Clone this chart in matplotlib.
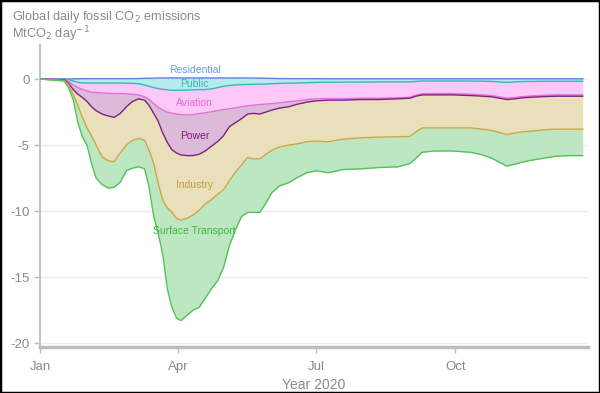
import numpy as np
import matplotlib
matplotlib.use("Agg")
import matplotlib.pyplot as plt
from matplotlib.patches import Rectangle

plt.rcParams['font.family'] = ['Liberation Sans', 'DejaVu Sans']
plt.rcParams['axes.unicode_minus'] = False

# day of year 2020 (0 = Jan 1)
days = [0, 16, 19, 22, 25, 28, 31, 34, 37, 41, 45, 49, 53, 57, 61, 65, 69, 72,
        75, 78, 81, 84, 87, 90, 93, 97, 101, 105, 109, 113, 117, 121, 125, 129,
        133, 137, 141, 145, 149, 153, 158, 164, 170, 176, 182, 190, 200, 212,
        224, 236, 244, 248, 252, 260, 272, 284, 292, 298, 303, 308, 313, 318,
        324, 332, 340, 350, 358]

# stacked levels (MtCO2/day): each is the running total
# down to (and including) that sector
residential_top = [0, 0, 0, 0.02, 0.02, 0.03, 0.03, 0.03, 0.03, 0.03, 0.03, 0.03,
                   0.03, 0.03, 0.03, 0.04, 0.05, 0.06, 0.07, 0.08, 0.08, 0.08, 0.08,
                   0.08, 0.08, 0.08, 0.08, 0.08, 0.08, 0.08, 0.08, 0.08, 0.08, 0.08,
                   0.08, 0.08, 0.07, 0.07, 0.06, 0.05, 0.04, 0.03, 0.03, 0.03, 0.03,
                   0.02, 0.02, 0.02, 0.02, 0.02, 0.02, 0.02, 0.02, 0.02, 0.02, 0.02,
                   0.02, 0.02, 0.02, 0.02, 0.02, 0.02, 0.02, 0.02, 0.02, 0.02, 0.02]

level_public = [0, 0, -0.05, -0.15, -0.25, -0.3, -0.3, -0.3, -0.3, -0.3, -0.3, -0.3,
                -0.3, -0.31, -0.32, -0.35, -0.45, -0.55, -0.65, -0.72, -0.78, -0.82,
                -0.85, -0.85, -0.85, -0.84, -0.82, -0.8, -0.8, -0.75, -0.65, -0.55,
                -0.48, -0.45, -0.42, -0.41, -0.4, -0.39, -0.38, -0.35, -0.33, -0.31,
                -0.3, -0.28, -0.25, -0.24, -0.23, -0.23, -0.22, -0.22, -0.22, -0.18,
                -0.15, -0.15, -0.15, -0.15, -0.16, -0.18, -0.22, -0.25, -0.22, -0.19,
                -0.18, -0.17, -0.17, -0.17, -0.17]

level_aviation = [0, -0.05, -0.2, -0.45, -0.65, -0.8, -0.9, -1.0, -1.02, -1.05,
                  -1.08, -1.1, -1.1, -1.12, -1.15, -1.2, -1.35, -1.55, -1.85, -2.15,
                  -2.35, -2.5, -2.6, -2.65, -2.7, -2.72, -2.7, -2.62, -2.55, -2.48,
                  -2.4, -2.32, -2.25, -2.18, -2.1, -2.03, -1.98, -1.93, -1.9, -1.86,
                  -1.8, -1.72, -1.65, -1.55, -1.5, -1.48, -1.48, -1.45, -1.45, -1.42,
                  -1.38, -1.22, -1.12, -1.1, -1.1, -1.15, -1.2, -1.25, -1.35, -1.45,
                  -1.4, -1.33, -1.28, -1.23, -1.2, -1.2, -1.2]

level_power = [0, -0.05, -0.35, -0.8, -1.15, -1.4, -1.7, -2.1, -2.4, -2.65, -2.8,
               -2.9, -2.6, -2.1, -1.7, -1.5, -1.6, -2.0, -2.6, -3.2, -4.1, -4.8,
               -5.35, -5.6, -5.75, -5.8, -5.8, -5.7, -5.45, -5.1, -4.75, -4.3, -3.6,
               -3.3, -3.0, -2.65, -2.6, -2.65, -2.5, -2.35, -2.2, -2.1, -1.9, -1.75,
               -1.65, -1.6, -1.6, -1.55, -1.55, -1.5, -1.45, -1.3, -1.2, -1.2, -1.2,
               -1.25, -1.3, -1.35, -1.45, -1.55, -1.5, -1.42, -1.38, -1.33, -1.3,
               -1.3, -1.3]

level_industry = [0, -0.1, -0.45, -1.2, -2.0, -2.9, -3.7, -4.3, -5.0, -5.9, -6.2,
                  -6.25, -5.6, -5.0, -4.65, -4.5, -4.65, -5.4, -6.4, -7.9, -9.2,
                  -9.75, -10.1, -10.55, -10.7, -10.55, -10.3, -9.95, -9.45, -9.15,
                  -8.75, -8.4, -7.7, -7.05, -6.5, -5.95, -6.05, -6.05, -5.7, -5.4,
                  -5.15, -5.0, -4.9, -4.75, -4.7, -4.75, -4.55, -4.45, -4.4, -4.37,
                  -4.35, -4.0, -3.7, -3.7, -3.7, -3.7, -3.8, -3.9, -4.05, -4.2, -4.1,
                  -4.0, -3.95, -3.85, -3.8, -3.8, -3.8]

level_surface = [0, -0.15, -0.7, -1.6, -3.3, -4.4, -5.0, -6.4, -7.5, -8.0, -8.25,
                 -8.2, -7.8, -6.95, -6.75, -6.65, -6.8, -8.2, -10.4, -11.7, -13.3,
                 -15.9, -17.3, -18.1, -18.3, -17.9, -17.5, -17.3, -16.6, -15.9,
                 -15.3, -14.3, -12.6, -11.4, -10.4, -10.1, -10.1, -10.1, -9.4, -8.6,
                 -8.1, -7.85, -7.45, -7.1, -6.95, -7.1, -6.85, -6.8, -6.7, -6.65,
                 -6.4, -6.0, -5.55, -5.45, -5.45, -5.55, -5.75, -6.0, -6.3, -6.6,
                 -6.45, -6.3, -6.15, -6.0, -5.85, -5.8, -5.8]

sectors = ['Residential', 'Public', 'Aviation', 'Power', 'Industry', 'Surface Transport']
fill_colors = ['#b9d2f4', '#b8ecec', '#fcc8f6', '#dbbbd9', '#e9dfba', '#bce7c0']
line_colors = ['#4f86d6', '#3ab3c2', '#e070d8', '#7e2280', '#c8a84a', '#52c25a']
label_colors = ['#6b9be6', '#33b7b7', '#e866e0', '#7b1f7b', '#c0a040', '#42b842']
# label anchor (day, value)
label_pos = [(102, 0.68), (102, -0.38), (102, -1.82), (102, -4.32), (102, -8.03), (102, -11.5)]

month_ticks = [0, 91, 182, 274]
month_labels = ['Jan', 'Apr', 'Jul', 'Oct']

grey = '#8a8a8a'

fig = plt.figure(figsize=(6, 3.93), dpi=100)
ax = fig.add_axes([40 / 600, 1 - 347 / 393, 548 / 600, 302 / 393])

x = np.array(days)
zero = np.zeros(len(days))
uppers = [residential_top, zero, level_public, level_aviation, level_power, level_industry]
lowers = [zero, level_public, level_aviation, level_power, level_industry, level_surface]

for i, name in enumerate(sectors):
    ax.fill_between(x, uppers[i], lowers[i], color=fill_colors[i], lw=0, zorder=2)
for i, name in enumerate(sectors):
    edge = residential_top if i == 0 else lowers[i]
    ax.plot(x, edge, color=line_colors[i], lw=1.0, zorder=3)
    ax.text(label_pos[i][0], label_pos[i][1], name, color=label_colors[i],
            fontsize=7.5, ha='center', va='center', zorder=4)

ax.set_xlim(0, 361.5)
ax.set_ylim(-20.3, 2.58)
ax.set_yticks([0, -5, -10, -15, -20])
ax.set_xticks(month_ticks)
ax.set_xticklabels(month_labels)
ax.grid(axis='y', color='#ececec', lw=1, zorder=0)
ax.set_axisbelow(True)

for side in ['top', 'right']:
    ax.spines[side].set_visible(False)
ax.spines['left'].set_color('#c4c4c4')
ax.spines['left'].set_linewidth(1.5)
ax.spines['bottom'].set_color('#bdbdbd')
ax.spines['bottom'].set_linewidth(2.5)
ax.tick_params(colors='#bdbdbd', labelcolor=grey, labelsize=9.5, length=4, width=1)
ax.tick_params(axis='x', pad=6)
ax.set_xlabel('Year 2020', color=grey, fontsize=10, labelpad=4)

fig.text(12 / 600, 1 - 17 / 393, 'Global daily fossil CO$_2$ emissions',
         color=grey, fontsize=9.2, ha='left', va='center')
fig.text(12 / 600, 1 - 34 / 393, 'MtCO$_2$ day$^{-1}$',
         color=grey, fontsize=9.2, ha='left', va='center')

fig.patches.append(Rectangle((0, 0), 1, 1, transform=fig.transFigure, fill=False,
                             edgecolor='black', lw=2.5))

fig.savefig('out.png', dpi=100)
